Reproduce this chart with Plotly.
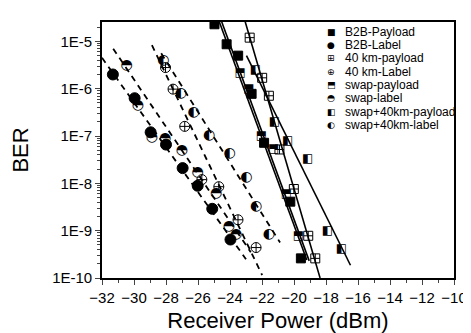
import plotly.graph_objects as go

# ---------------- data ----------------
b2b_payload_x = [-24.97, -24.21, -23.49, -22.65, -21.87, -20.23, -19.57]
b2b_payload_y = [2.3e-5, 8.7e-6, 5.0e-6, 7.8e-7, 7.2e-8, 4.1e-9, 2.6e-10]

b2b_label_x = [-31.32, -29.96, -28.96, -28.00, -26.96, -26.02, -25.11, -23.97]
b2b_label_y = [2.0e-6, 6.3e-7, 1.2e-7, 6.6e-8, 2.1e-8, 8.9e-9, 2.9e-9, 6.5e-10]

km40_payload_x = [-22.77, -21.99, -21.57, -20.91, -20.01, -19.11, -18.67]
km40_payload_y = [1.2e-5, 1.7e-6, 7.1e-7, 5.2e-8, 7.6e-9, 7.8e-10, 2.6e-10]

km40_label_x = [-28.03, -27.56, -26.83, -25.76, -24.70, -23.50, -22.37]
km40_label_y = [2.8e-6, 9.8e-7, 1.6e-7, 1.2e-8, 8.5e-9, 1.7e-9, 4.4e-10]

swap_payload_x = [-23.37, -22.81, -22.03, -21.27, -20.47, -19.73]
swap_payload_y = [2.1e-6, 1.0e-6, 1.0e-7, 5.2e-8, 6.0e-9, 7.8e-10]

swap_label_x = [-30.46, -29.76, -28.88, -28.06, -27.01, -26.02, -24.87, -24.07, -23.62]
swap_label_y = [3.1e-6, 4.4e-7, 9.5e-8, 8.7e-8, 5.0e-8, 1.7e-8, 6.0e-9, 1.2e-9, 8.5e-10]

swap40_payload_x = [-22.41, -21.23, -20.39, -19.14, -17.91, -17.03]
swap40_payload_y = [2.5e-6, 2.0e-7, 7.8e-8, 3.3e-8, 1.0e-9, 4.2e-10]

swap40_label_x = [-28.16, -27.07, -26.27, -25.30, -24.03, -22.97, -22.37, -21.57]
swap40_label_y = [4.0e-6, 7.9e-7, 3.1e-7, 1.05e-7, 4.2e-8, 1.35e-8, 3.2e-9, 8.3e-10]

# fitted lines (end points)
fit_b2b_payload_x = [-24.67, -19.20]
fit_b2b_payload_y = [2.6e-5, 2.4e-10]
fit_swap_payload_x = [-24.52, -19.05]
fit_swap_payload_y = [2.6e-5, 2.3e-10]
fit_km40_payload_x = [-23.05, -18.37]
fit_km40_payload_y = [2.6e-5, 1.0e-10]
fit_swap40_payload_x = [-22.97, -16.47]
fit_swap40_payload_y = [5.0e-6, 1.86e-10]

fit_b2b_label_x = [-32.0, -23.0]
fit_b2b_label_y = [4.5e-6, 2.5e-10]
fit_swap_label_x = [-31.3, -22.7]
fit_swap_label_y = [7.0e-6, 3.5e-10]
fit_km40_label_x = [-28.88, -21.99]
fit_km40_label_y = [8.3e-6, 1.15e-10]
fit_swap40_label_x = [-28.3, -20.87]
fit_swap40_label_y = [5.6e-6, 5.6e-10]

legend_labels = ["B2B-Payload", "B2B-Label", "40 km-payload", "40 km-Label",
                 "swap-payload", "swap-label", "swap+40km-payload", "swap+40km-label"]
legend_glyphs = ["\u25A0", "\u25CF", "\u229E", "\u2295", "\u2B12", "\u25D3", "\u25E7", "\u25D0"]

x_ticks = list(range(-32, -9, 2))
y_tickvals = [1e-10, 1e-9, 1e-8, 1e-7, 1e-6, 1e-5]
y_ticktext = ["1E-10", "1E-9", "1E-8", "1E-7", "1E-6", "1E-5"]

# ---------------- figure ----------------
fig = go.Figure()

def line(x, y, dash):
    fig.add_trace(go.Scatter(x=x, y=y, mode="lines", showlegend=False, hoverinfo="skip",
                             line=dict(color="black", width=1.6 if dash == "solid" else 1.8,
                                       dash=dash if dash == "solid" else "6px,5px")))

for lx, ly in [(fit_b2b_payload_x, fit_b2b_payload_y), (fit_swap_payload_x, fit_swap_payload_y),
               (fit_km40_payload_x, fit_km40_payload_y), (fit_swap40_payload_x, fit_swap40_payload_y)]:
    line(lx, ly, "solid")
for lx, ly in [(fit_b2b_label_x, fit_b2b_label_y), (fit_swap_label_x, fit_swap_label_y),
               (fit_km40_label_x, fit_km40_label_y), (fit_swap40_label_x, fit_swap40_label_y)]:
    line(lx, ly, "dash")

def marker_trace(x, y, symbol, size):
    fig.add_trace(go.Scatter(x=x, y=y, mode="markers", showlegend=False,
                             marker=dict(symbol=symbol, size=size, color="black",
                                         line=dict(color="black", width=1))))

def glyph_trace(x, y, glyph, size):
    fig.add_trace(go.Scatter(x=x, y=y, mode="text", showlegend=False,
                             text=[glyph] * len(x), textposition="middle center",
                             textfont=dict(family="DejaVu Sans", size=size, color="black")))

marker_trace(b2b_payload_x, b2b_payload_y, "square", 9)
marker_trace(b2b_label_x, b2b_label_y, "circle", 11)
marker_trace(km40_payload_x, km40_payload_y, "square-cross-open", 9)
marker_trace(km40_label_x, km40_label_y, "circle-cross-open", 10)
glyph_trace(swap_payload_x, swap_payload_y, legend_glyphs[4], 12)
glyph_trace(swap_label_x, swap_label_y, legend_glyphs[5], 14)
glyph_trace(swap40_payload_x, swap40_payload_y, legend_glyphs[6], 12)
glyph_trace(swap40_label_x, swap40_label_y, legend_glyphs[7], 14)

# legend built from annotations
row0, row_step = 22.0, 14.0
plot_top, plot_h = 12, 268
for i, (g, lab) in enumerate(zip(legend_glyphs, legend_labels)):
    py = row0 + i * row_step
    yp = 1 - (py - plot_top) / plot_h
    fig.add_annotation(x=0.651, y=yp, xref="paper", yref="paper", text=g, showarrow=False,
                       xanchor="center", yanchor="middle",
                       font=dict(family="DejaVu Sans", size=9, color="black"))
    fig.add_annotation(x=0.684, y=yp, xref="paper", yref="paper", text=lab, showarrow=False,
                       xanchor="left", yanchor="middle",
                       font=dict(family="Liberation Sans", size=12, color="black"))

minor_y = [k * 10.0 ** e for e in range(-10, -4) for k in range(2, 10)]

fig.update_layout(
    width=471, height=333,
    margin=dict(l=91, r=13, t=12, b=53),
    paper_bgcolor="white", plot_bgcolor="white",
    font=dict(family="Liberation Sans", color="black"),
    xaxis=dict(range=[-32, -10], tickvals=x_ticks, ticks="outside", ticklen=5, tickwidth=1.3,
               showline=True, linewidth=1.6, linecolor="black", mirror=True,
               showgrid=False, zeroline=False, tickfont=dict(size=15),
               minor=dict(dtick=1, ticks="outside", ticklen=3, tickwidth=1.2, showgrid=False),
               title=dict(text="Receiver Power (dBm)", font=dict(size=22), standoff=8)),
    yaxis=dict(type="log", range=[-10, -4.59], tickvals=y_tickvals, ticktext=y_ticktext,
               ticks="outside", ticklen=5, tickwidth=1.3,
               showline=True, linewidth=1.6, linecolor="black", mirror=True,
               showgrid=False, zeroline=False, tickfont=dict(size=15),
               minor=dict(tickvals=minor_y, ticks="outside", ticklen=3, tickwidth=1, showgrid=False),
               title=dict(text="BER", font=dict(size=22), standoff=17)),
)

fig.write_html("out.html")
